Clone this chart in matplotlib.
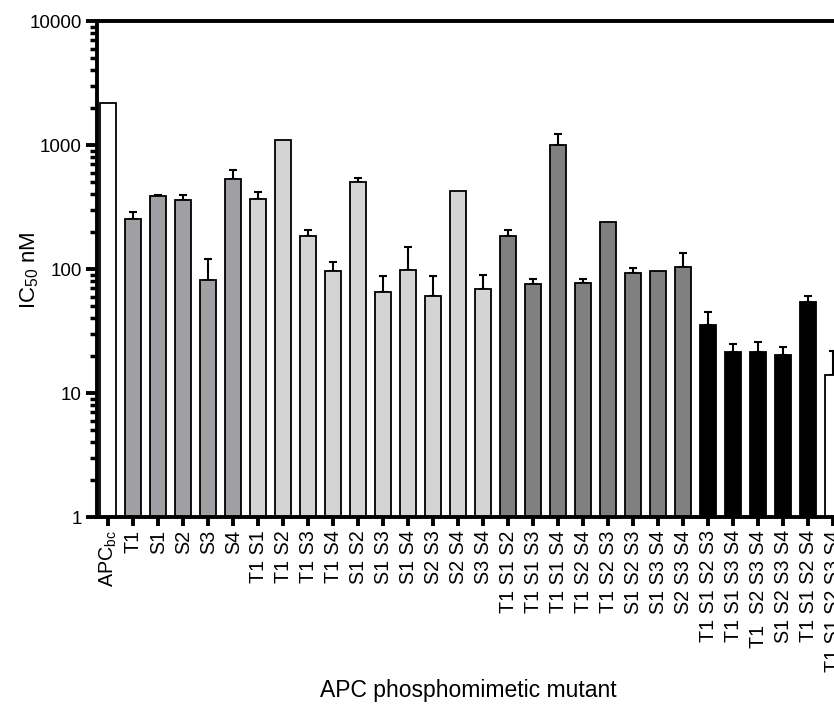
import numpy as np
import matplotlib
matplotlib.use('Agg')
import matplotlib.pyplot as plt
from matplotlib.ticker import LogLocator, NullFormatter

plt.rcParams['font.family'] = ['Liberation Sans', 'DejaVu Sans']
plt.rcParams['mathtext.fontset'] = 'custom'
plt.rcParams['mathtext.rm'] = 'Liberation Sans'
plt.rcParams['mathtext.it'] = 'Liberation Sans:italic'

# mutant labels, grouped by number of phosphomimetic sites
labels = ['APC$_{\\mathrm{bc}}$', 'T1', 'S1', 'S2', 'S3', 'S4',
          'T1 S1', 'T1 S2', 'T1 S3', 'T1 S4', 'S1 S2', 'S1 S3', 'S1 S4', 'S2 S3', 'S2 S4', 'S3 S4',
          'T1 S1 S2', 'T1 S1 S3', 'T1 S1 S4', 'T1 S2 S4', 'T1 S2 S3', 'S1 S2 S3', 'S1 S3 S4', 'S2 S3 S4',
          'T1 S1 S2 S3', 'T1 S1 S3 S4', 'T1  S2 S3 S4', 'S1 S2 S3 S4', 'T1 S1 S2 S4',
          'T1 S1 S2 S3 S4']
groups = [0, 1, 1, 1, 1, 1,
          2, 2, 2, 2, 2, 2, 2, 2, 2, 2,
          3, 3, 3, 3, 3, 3, 3, 3,
          4, 4, 4, 4, 4,
          5]

# IC50 (nM) and upper error (nM); nan = no error bar shown
ic50 = [2190, 255, 391, 362, 81, 535,
        367, 1100, 184, 96, 503, 65.5, 99, 60.4, 428, 69,
        185, 76, 992, 76.6, 238, 92, 95.5, 103,
        35.3, 21.3, 21.3, 20.1, 54.5,
        13.9]
err_up = [np.nan, 31, 5, 31, 40, 97,
          54, np.nan, 21, 17, 42, 23, 51, 27, np.nan, 20,
          20, 7, 233, 7, np.nan, 9, np.nan, 31,
          9.4, 3.4, 4.3, 3.3, 6.5,
          7.9]

group_colors = ['white', '#a0a0a4', '#d4d4d4', '#808080', 'black', 'white']

fig = plt.figure(figsize=(8.34, 7.10), dpi=100)
W, H = 834.0, 710.0
left, right, top, bottom = 97, 848, 21, 517
ax = fig.add_axes([left / W, 1 - bottom / H, (right - left) / W, (bottom - top) / H])

x = np.arange(len(labels))
colors = [group_colors[g] for g in groups]
ax.bar(x, ic50, width=0.66, color=colors, edgecolor='black', linewidth=1.3, zorder=2)

err = np.array(err_up, dtype=float)
has = ~np.isnan(err)
vals = np.array(ic50, dtype=float)
ax.errorbar(x[has], vals[has], yerr=[np.zeros(has.sum()), err[has]], fmt='none',
            ecolor='black', elinewidth=1.5, capsize=3, capthick=1.5, zorder=1)

ax.set_yscale('log')
ax.set_ylim(1, 10000)
ax.set_xlim(-0.45, len(labels) - 0.4)
ax.set_yticks([1, 10, 100, 1000, 10000])
ax.set_yticklabels(['1', '10', '100', '1000', '10000'])
ax.yaxis.set_minor_locator(LogLocator(base=10, subs=np.arange(2, 10)))
ax.yaxis.set_minor_formatter(NullFormatter())

ax.set_xticks(x)
ax.set_xticklabels(labels, rotation=90, fontsize=14.2)

for s in ['left', 'bottom', 'top']:
    ax.spines[s].set_linewidth(2.8)
ax.spines['right'].set_visible(False)

ax.tick_params(axis='y', which='major', direction='out', length=8, width=2.8, labelsize=13.5, pad=3)
ax.tick_params(axis='y', which='minor', direction='out', length=5, width=2.5)
ax.tick_params(axis='x', which='major', direction='out', length=6.5, width=2.8, pad=3)

fig.text(30 / W, 1 - 270 / H, 'IC$_{\\mathrm{50}}$ nM', fontsize=16, rotation=90,
         ha='center', va='center')
fig.text(468 / W, 1 - 690 / H, 'APC phosphomimetic mutant', fontsize=16.5, ha='center', va='center')

fig.savefig('out.png', dpi=100)
